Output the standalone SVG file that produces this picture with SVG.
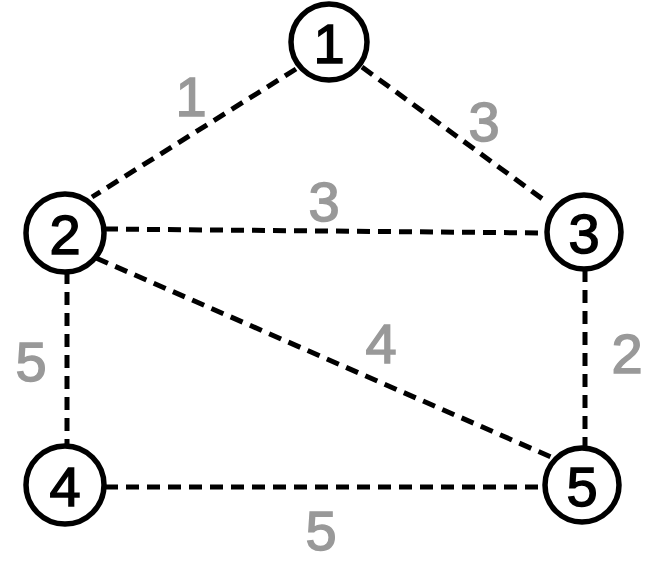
<svg xmlns="http://www.w3.org/2000/svg" width="669" height="568" viewBox="0 0 669 568">
<style>
.edge{stroke:#000;stroke-width:5;stroke-dasharray:13 8;fill:none}
.node circle{fill:#fff;stroke:#000;stroke-width:5.5}
.node text{font-family:"Liberation Sans",Arial,sans-serif;font-size:56px;fill:#000;stroke:#000;stroke-width:1.5;text-anchor:middle;dominant-baseline:central}
.lbl{font-family:"Liberation Sans",Arial,sans-serif;font-size:56px;fill:#999;stroke:#999;stroke-width:1.5;text-anchor:middle;dominant-baseline:central}
</style>
<rect width="669" height="568" fill="#fff"/>
<g id="edges">
<line class="edge" x1="296" y1="69" x2="92" y2="197"/>
<line class="edge" x1="362" y1="67" x2="548" y2="203"/>
<line class="edge" x1="105" y1="229" x2="547" y2="233"/>
<line class="edge" x1="96" y1="258" x2="551" y2="457"/>
<line class="edge" x1="67" y1="271" x2="67" y2="445"/>
<line class="edge" x1="585" y1="269" x2="585" y2="447"/>
<line class="edge" x1="105" y1="487" x2="544" y2="487"/>
</g>
<g id="labels">
<text class="lbl" x="191" y="96">1</text>
<text class="lbl" x="484" y="121">3</text>
<text class="lbl" x="324" y="201">3</text>
<text class="lbl" x="381" y="343">4</text>
<text class="lbl" x="31" y="361">5</text>
<text class="lbl" x="627" y="353">2</text>
<text class="lbl" x="321" y="530">5</text>
</g>
<g id="node1" class="node"><circle cx="329" cy="42" r="38"/><text x="329" y="43">1</text></g>
<g id="node2" class="node"><circle cx="65" cy="233" r="39"/><text x="65" y="234">2</text></g>
<g id="node3" class="node"><circle cx="584" cy="232" r="37"/><text x="584" y="233">3</text></g>
<g id="node4" class="node"><circle cx="65" cy="485" r="39"/><text x="65" y="486">4</text></g>
<g id="node5" class="node"><circle cx="582" cy="485" r="37"/><text x="582" y="486">5</text></g>
</svg>
